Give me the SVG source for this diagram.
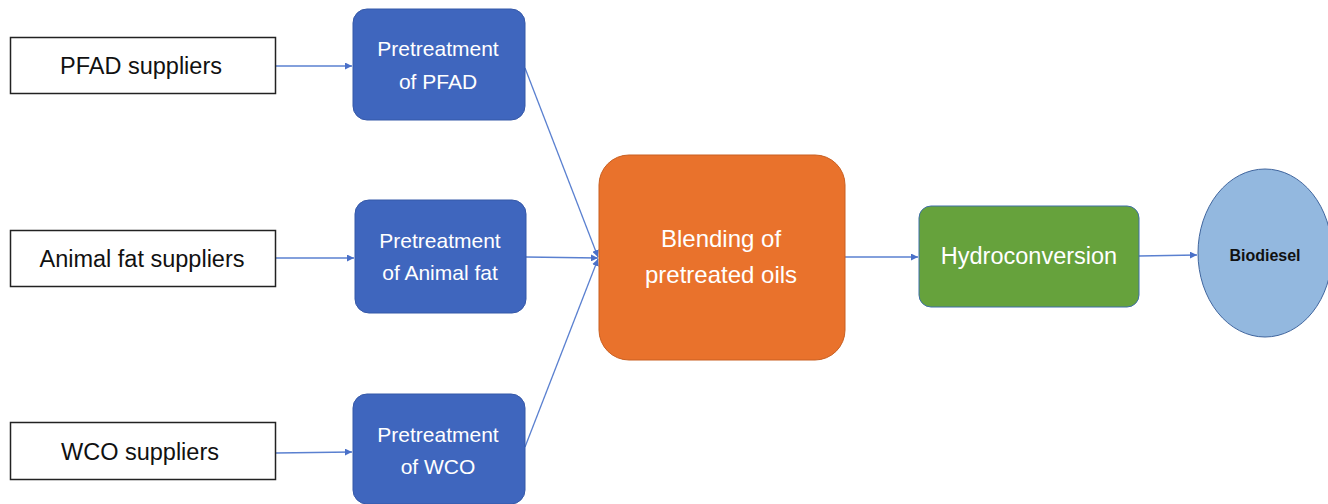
<svg xmlns="http://www.w3.org/2000/svg" width="1328" height="504" viewBox="0 0 1328 504">
<defs>
<style>
.sup{fill:#fff;stroke:#222;stroke-width:1.5}
.pre{fill:#3F66BE;stroke:#3558A8;stroke-width:1}
.t{font-family:"Liberation Sans",Arial,sans-serif;text-anchor:middle}
.tb{fill:#111;font-size:23.5px}
.tw{fill:#fff;font-size:21px}
.con{stroke:#5A80D0;stroke-width:1.3;fill:none;marker-end:url(#ah)}
</style>
<marker id="ah" viewBox="0 0 10 10" refX="10" refY="5" markerWidth="7" markerHeight="7" orient="auto" markerUnits="userSpaceOnUse">
<path d="M0,0 L10,5 L0,10 z" fill="#4A70C8"/>
</marker>
</defs>
<rect width="1328" height="504" fill="#fff"/>
<g id="connectors">
<line class="con" x1="276" y1="66" x2="352" y2="66"/>
<line class="con" x1="276" y1="258" x2="354" y2="258"/>
<line class="con" x1="276" y1="453" x2="352" y2="452"/>
<line class="con" x1="525" y1="68" x2="598" y2="257"/>
<line class="con" x1="526" y1="257" x2="598" y2="258"/>
<line class="con" x1="525" y1="447" x2="598" y2="259"/>
<line class="con" x1="845" y1="257" x2="918" y2="257"/>
<line class="con" x1="1139" y1="256" x2="1197" y2="255"/>
</g>
<g id="pfad-suppliers">
<rect class="sup" x="10.5" y="37.5" width="265" height="56"/>
<text class="t tb" x="141" y="74">PFAD suppliers</text>
</g>
<g id="animal-suppliers">
<rect class="sup" x="10.5" y="230.5" width="265" height="56"/>
<text class="t tb" x="142" y="267">Animal fat suppliers</text>
</g>
<g id="wco-suppliers">
<rect class="sup" x="10.5" y="422.5" width="265" height="57"/>
<text class="t tb" x="140" y="460">WCO suppliers</text>
</g>
<g id="pre-pfad">
<rect class="pre" x="353" y="9" width="172" height="111" rx="14"/>
<text class="t tw" x="438" y="56">Pretreatment</text>
<text class="t tw" x="438" y="89">of PFAD</text>
</g>
<g id="pre-animal">
<rect class="pre" x="355" y="200" width="171" height="113" rx="14"/>
<text class="t tw" x="440" y="248">Pretreatment</text>
<text class="t tw" x="440" y="280">of Animal fat</text>
</g>
<g id="pre-wco">
<rect class="pre" x="353" y="394" width="172" height="110" rx="14"/>
<text class="t tw" x="438" y="442">Pretreatment</text>
<text class="t tw" x="438" y="474">of WCO</text>
</g>
<g id="blending">
<rect x="599" y="155" width="246" height="205" rx="30" fill="#E9722C" stroke="#C95F20" stroke-width="1"/>
<text class="t" x="721" y="247" fill="#fff" font-size="24">Blending of</text>
<text class="t" x="721" y="283" fill="#fff" font-size="24">pretreated oils</text>
</g>
<g id="hydroconversion">
<rect x="919" y="206" width="220" height="101" rx="12" fill="#66A23C" stroke="#3F6FA8" stroke-width="1"/>
<text class="t" x="1029" y="264" fill="#fff" font-size="23.5">Hydroconversion</text>
</g>
<g id="biodiesel">
<ellipse cx="1265" cy="253" rx="67" ry="84" fill="#93B8DF" stroke="#41669E" stroke-width="1"/>
<text class="t" x="1265" y="261" fill="#111" font-size="16" font-weight="bold">Biodiesel</text>
</g>
</svg>
